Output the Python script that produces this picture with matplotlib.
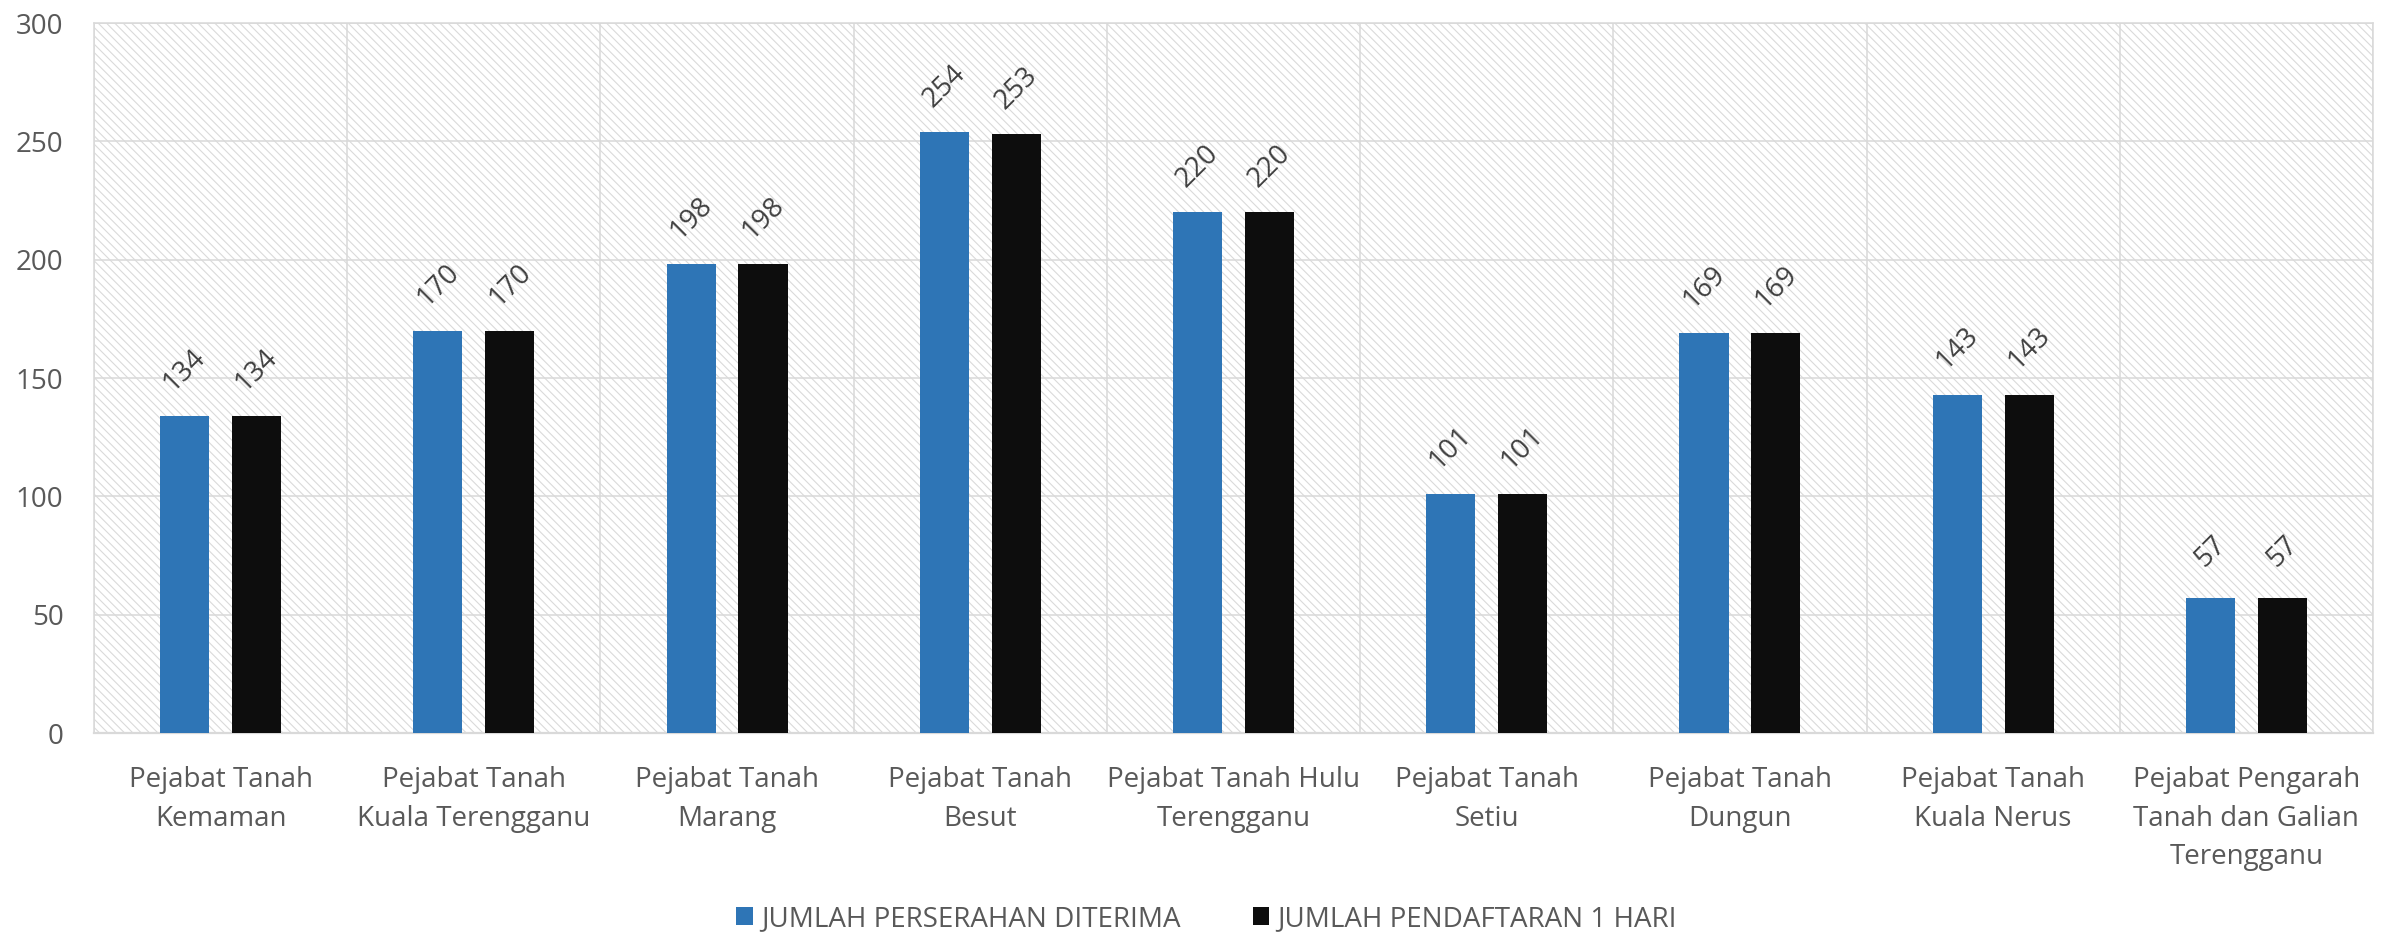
import matplotlib
matplotlib.use("Agg")
import matplotlib.pyplot as plt
import numpy as np
from matplotlib.patches import Patch

categories = [
    "Pejabat Tanah\nKemaman",
    "Pejabat Tanah\nKuala Terengganu",
    "Pejabat Tanah\nMarang",
    "Pejabat Tanah\nBesut",
    "Pejabat Tanah Hulu\nTerengganu",
    "Pejabat Tanah\nSetiu",
    "Pejabat Tanah\nDungun",
    "Pejabat Tanah\nKuala Nerus",
    "Pejabat Pengarah\nTanah dan Galian\nTerengganu",
]
series_names = ["JUMLAH PERSERAHAN DITERIMA", "JUMLAH PENDAFTARAN 1 HARI"]
perserahan = [134, 170, 198, 254, 220, 101, 169, 143, 57]
pendaftaran = [134, 170, 198, 253, 220, 101, 169, 143, 57]
yticks = [0, 50, 100, 150, 200, 250, 300]

colors = ["#2E75B6", "#0D0D0D"]
grid_c = "#D9D9D9"
text_c = "#595959"
label_c = "#404040"
font = ["Open Sans", "DejaVu Sans"]

plt.rcParams["font.family"] = font
plt.rcParams["hatch.linewidth"] = 0.8
plt.rcParams["hatch.color"] = "#DADADA"

fig = plt.figure(figsize=(23.94, 9.51), dpi=100)
ax = fig.add_axes([0.0393, 0.2292, 0.9519, 0.7466])

# hatched background
ax.patch.set_facecolor("white")
ax.add_patch(plt.Rectangle((0, 0), 1, 1, transform=ax.transAxes,
                           facecolor="white", edgecolor="#DADADA",
                           hatch="\\\\\\\\", linewidth=0, zorder=0))

x = np.arange(len(categories))
w = 0.194
off = 0.142
b1 = ax.bar(x - off, perserahan, w, color=colors[0], zorder=3, label=series_names[0])
b2 = ax.bar(x + off, pendaftaran, w, color=colors[1], zorder=3, label=series_names[1])

for bars, vals in ((b1, perserahan), (b2, pendaftaran)):
    for r, v in zip(bars, vals):
        ax.annotate(str(v), (r.get_x() + r.get_width() / 2, r.get_height()),
                    xytext=(0, 33), textcoords="offset points",
                    ha="center", va="center", rotation=45,
                    fontsize=20, color=label_c, zorder=4)

ax.set_xlim(-0.5, len(categories) - 0.5)
ax.set_ylim(0, 300)
ax.set_yticks(yticks)
ax.set_xticks(x)
ax.set_xticklabels(categories, linespacing=1.5)
ax.set_xticks(np.arange(len(categories) + 1) - 0.5, minor=True)
ax.tick_params(axis="both", which="both", length=0, labelsize=20, colors=text_c)
ax.tick_params(axis="y", pad=22)
ax.tick_params(axis="x", pad=24)

ax.grid(axis="y", which="major", color=grid_c, linewidth=1.1, zorder=1)
ax.grid(axis="x", which="minor", color=grid_c, linewidth=1.1, zorder=1)
ax.grid(axis="x", which="major", visible=False)
ax.set_axisbelow(True)
for s in ax.spines.values():
    s.set_color(grid_c)
    s.set_linewidth(1.1)
ax.spines["bottom"].set_linewidth(1.6)

handles = [Patch(facecolor=c, edgecolor="none") for c in colors]
fig.legend(handles, series_names, loc="center", bbox_to_anchor=(0.504, 0.034),
           ncol=2, frameon=False, fontsize=20, labelcolor=text_c,
           handlelength=0.6, handleheight=0.6, handletextpad=0.3,
           columnspacing=2.6)

fig.savefig("out.png", dpi=100)
